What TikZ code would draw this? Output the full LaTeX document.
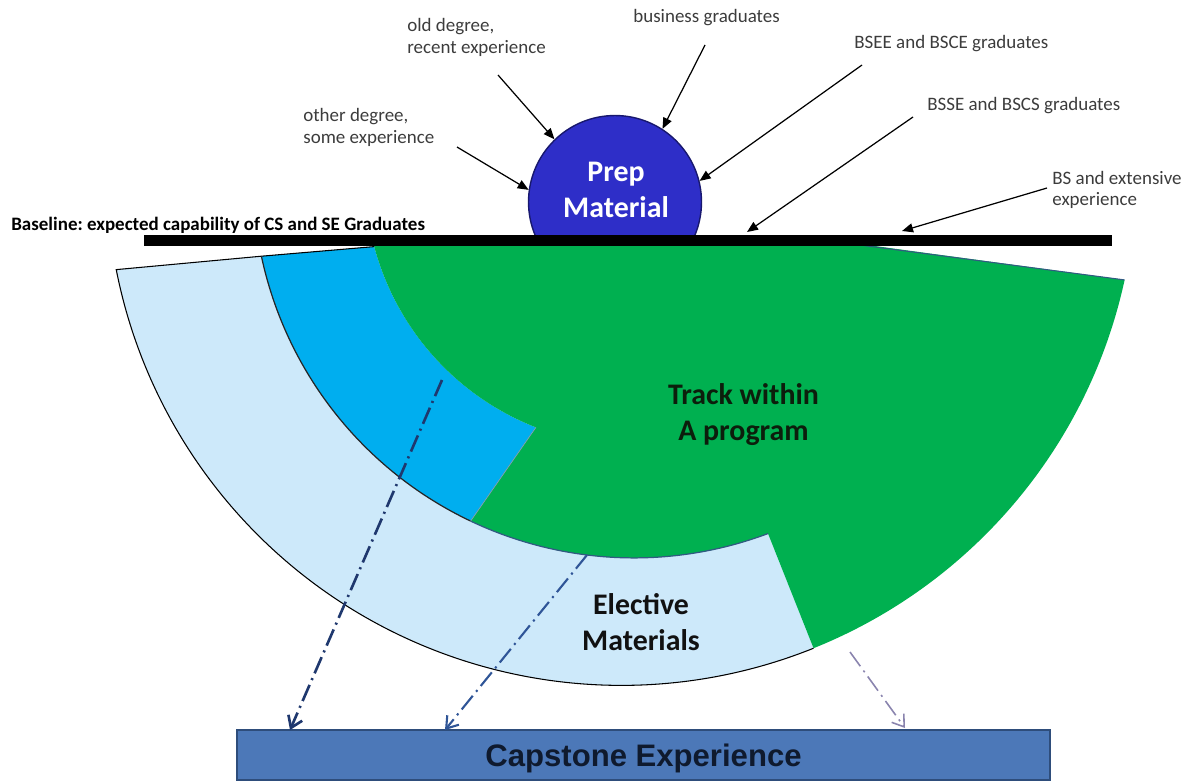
\documentclass[tikz,border=0pt]{standalone}
\usepackage{fontspec}
\setmainfont{Carlito}
\newfontfamily\capfont{Liberation Sans}
\usetikzlibrary{arrows.meta,calc}
\frenchspacing
\definecolor{prepblue}{RGB}{46,46,200}
\definecolor{prepedge}{RGB}{24,24,110}
\definecolor{elecblue}{RGB}{205,233,250}
\definecolor{coreblue}{RGB}{0,174,239}
\definecolor{trackgreen}{RGB}{0,176,80}
\definecolor{capblue}{RGB}{76,120,184}
\definecolor{capedge}{RGB}{46,77,123}
\definecolor{notegray}{RGB}{60,60,60}
\definecolor{flowone}{RGB}{31,56,110}
\definecolor{flowtwo}{RGB}{47,85,151}
\definecolor{flowthree}{RGB}{138,132,174}
\definecolor{seam}{RGB}{50,90,130}

\begin{document}
\begin{tikzpicture}[
  x=0.02cm, y=-0.02cm,
  note/.style={font=\fontsize{10.8}{12.2}\selectfont, text=notegray,
    align=left, anchor=west, inner sep=0pt},
  big/.style={font=\fontsize{17}{20.5}\selectfont\bfseries, align=center},
  feed/.style={-{Triangle[length=2.2mm,width=1.8mm]}, line width=0.7pt},
  flow/.style={-{Straight Barb[length=2.2mm,width=3mm]},
    dash pattern=on 10pt off 3pt on 1.2pt off 3pt},
  capbox/.style={draw=capedge, fill=capblue, line width=0.8pt,
    minimum width=16.26cm, minimum height=1cm, inner sep=0pt, text depth=0pt,
    font=\capfont\bfseries\fontsize{17.7}{21}\selectfont, text={rgb,255:red,15;green,26;blue,46}}
]
  \useasboundingbox (0,0) rectangle (1183,781);

  % entry routes
  \node[note] (olddeg) at (407,37.5) {old degree,\\recent experience};
  \node[note] (business) at (633,18) {business graduates};
  \node[note] (bsee) at (854,44) {BSEE and BSCE graduates};
  \node[note] (bsse) at (927,106) {BSSE and BSCS graduates};
  \node[note] (otherdeg) at (303,127.5) {other degree,\\some experience};
  \node[note] (bsext) at (1052,190) {BS and extensive\\experience};
  \node[anchor=west, inner sep=0pt, font=\fontsize{10.8}{12}\selectfont\bfseries]
    (baseline) at (11,225) {Baseline: expected capability of CS and SE Graduates};

  \node[circle, fill=prepblue, draw=prepedge, line width=0.8pt,
    minimum size=3.46cm, inner sep=0pt] (prep) at (615,202) {};
  \node[big, text=white] (preptext) at (616,190) {Prep\\Material};

  % arcs
  \coordinate (Co) at (621.5,170.5);
  \coordinate (Ci) at (634,177);
  \coordinate (eA) at ($(Co)+(-168.9:10.3cm)$);
  \coordinate (eD) at ($(Co)+(-68.1:10.3cm)$);
  \coordinate (eR) at ($(Co)+(-12.27:10.3cm)$);
  \coordinate (iL) at ($(Ci)+(-168:7.62cm)$);
  \coordinate (iB) at ($(Ci)+(-115.4:7.62cm)$);
  \coordinate (iG) at ($(Ci)+(-69.4:7.62cm)$);
  \coordinate (cT) at ($(Ci)+(-165:5.38cm)$);
  \coordinate (cE) at ($(Ci)+(-111.4:5.38cm)$);

  \fill[elecblue] (eA) arc[start angle=-168.9, end angle=-68.1, radius=10.3cm]
    -- (iG) arc[start angle=-69.4, end angle=-168, radius=7.62cm] -- cycle;
  \fill[coreblue] (iL) -- (cT) arc[start angle=-165, end angle=-111.4, radius=5.38cm]
    -- (iB) arc[start angle=-115.4, end angle=-168, radius=7.62cm] -- cycle;
  \fill[trackgreen] (cT) -- (374,244) -- (860,244) -- (eR)
    arc[start angle=-12.27, end angle=-68.1, radius=10.3cm]
    -- (iG) arc[start angle=-69.4, end angle=-115.4, radius=7.62cm]
    -- (cE) arc[start angle=-111.4, end angle=-165, radius=5.38cm] -- cycle;

  \draw[line width=0.6pt] (cT) -- (iL) -- (eA)
    arc[start angle=-168.9, end angle=-68.1, radius=10.3cm];
  \draw[line width=0.7pt, black!85] (iB) arc[start angle=-115.4, end angle=-168, radius=7.62cm];
  \draw[line width=0.7pt, seam] (iG) arc[start angle=-69.4, end angle=-115.4, radius=7.62cm];
  \draw[line width=0.4pt, seam!60] (iB) -- (cE);
  \draw[line width=0.6pt, seam] (860,245) -- (eR);

  \node[fill=black, minimum width=19.36cm, minimum height=0.22cm, inner sep=0pt]
    (bar) at (628,240.5) {};

  \node[big, text={rgb,255:red,12;green,30;blue,12}] (track) at (743.5,414.5) {Track within\\A program};
  \node[big, text={rgb,255:red,17;green,17;blue,17}] (elective) at (641,622.5) {Elective\\Materials};

  \node[capbox] (capstone) at (643.5,755) {Capstone Experience};

  % arrow ends
  \coordinate (oldt) at (498,75);
  \coordinate (bust) at (705,45);
  \coordinate (bseet) at (862,65);
  \coordinate (othert) at (457,147);
  \coordinate (bsset) at (913,117);
  \coordinate (bsseh) at (747,232);
  \coordinate (bsextt) at (1047,188);
  \coordinate (bsexth) at (902,231);
  \foreach \a/\b in {oldt/prep.134, bust/prep.57, bseet/prep.14, othert/prep.172,
                     bsset/bsseh, bsextt/bsexth} {
    \draw[feed] (\a) -- (\b);
  }

  \coordinate (fonet) at (442,380);
  \coordinate (foneh) at (290,730);
  \coordinate (ftwot) at (587,555);
  \coordinate (ftwoh) at (445,730);
  \coordinate (fthreet) at (850,652);
  \coordinate (fthreeh) at (905,728);
  \draw[flow, flowone, line width=1.5pt] (fonet) -- (foneh);
  \draw[flow, flowtwo, line width=1.2pt] (ftwot) -- (ftwoh);
  \draw[flow, flowthree, line width=0.9pt] (fthreet) -- (fthreeh);
\end{tikzpicture}
\end{document}
